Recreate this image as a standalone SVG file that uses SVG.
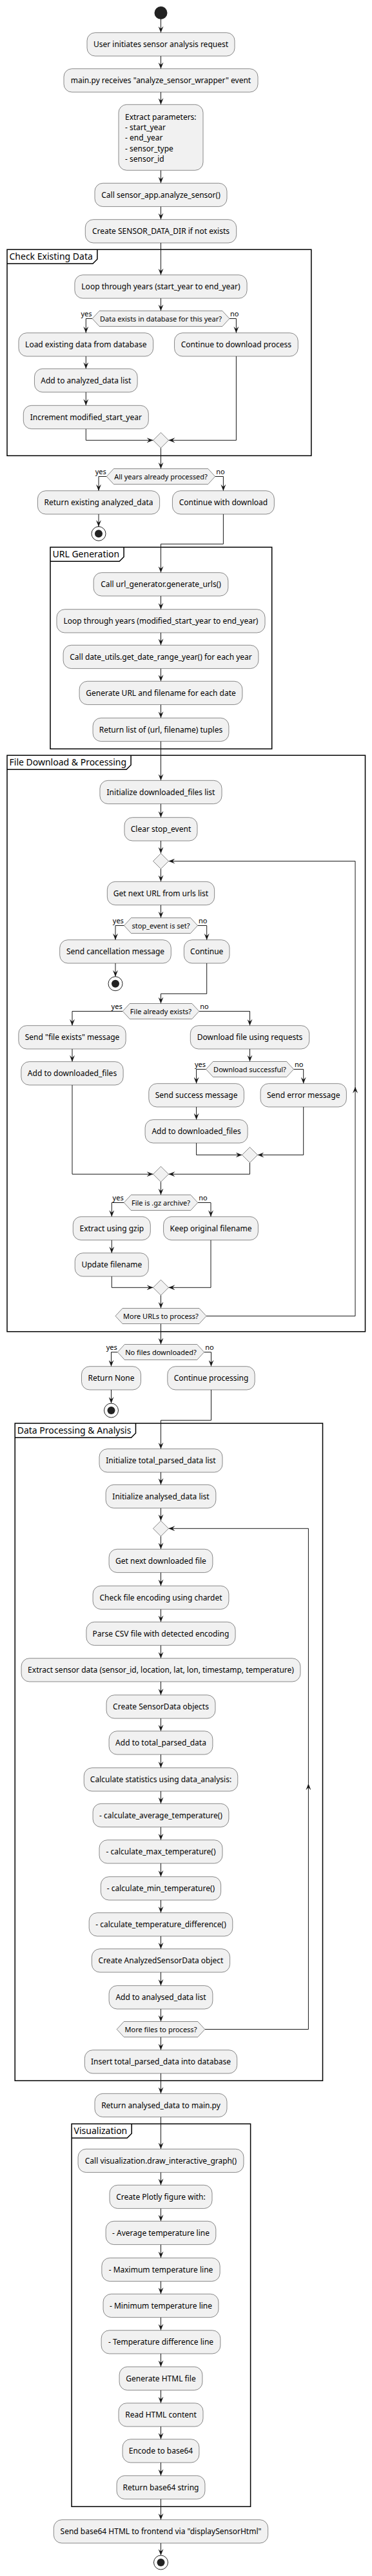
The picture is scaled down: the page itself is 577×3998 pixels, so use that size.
<svg xmlns="http://www.w3.org/2000/svg" width="577" height="3998" viewBox="0 0 577 3998">
<style>
.b{fill:#F1F1F1;stroke:#181818;stroke-width:0.5}
.t{font-family:"Noto Sans","Open Sans",sans-serif;font-size:12px;fill:#000;text-anchor:middle}
.tl{font-family:"Noto Sans","Open Sans",sans-serif;font-size:12px;fill:#000}
.ht{font-family:"Noto Sans","Open Sans",sans-serif;font-size:11px;fill:#000;text-anchor:middle}
.ly{font-family:"Noto Sans","Open Sans",sans-serif;font-size:11px;fill:#000;text-anchor:end}
.ln{font-family:"Noto Sans","Open Sans",sans-serif;font-size:11px;fill:#000}
.ft{font-family:"Noto Sans","Open Sans",sans-serif;font-size:14px;fill:#000}
.fr{fill:none;stroke:#000;stroke-width:1.5}
.c{fill:none;stroke:#181818;stroke-width:1;marker-end:url(#ah)}
.st{fill:#222}
.en{fill:none;stroke:#222;stroke-width:1}
</style>
<defs>
<marker id="ah" viewBox="0 0 10 8" refX="10" refY="4" markerWidth="10" markerHeight="8" orient="auto" markerUnits="userSpaceOnUse"><path d="M0,0 L10,4 L0,8 L4,4 Z" fill="#181818"/></marker>
</defs>
<rect width="577" height="3998" fill="#fff"/>

<g id="frames">
<g id="f1"><rect class="fr" x="11" y="387.3" width="471.8" height="320"/><path class="fr" d="M11,409.3 H143.9 L150.9,402.3 V387.3"/><text class="ft" x="14.5" y="403.3">Check Existing Data</text></g>
<g id="f2"><rect class="fr" x="78" y="849.3" width="343.7" height="313"/><path class="fr" d="M78,871.3 H185.1 L192.1,864.3 V849.3"/><text class="ft" x="81.5" y="865.3">URL Generation</text></g>
<g id="f3"><rect class="fr" x="11" y="1172.3" width="555.5" height="894.4"/><path class="fr" d="M11,1194.3 H196.1 L203.1,1187.3 V1172.3"/><text class="ft" x="14.5" y="1188.3">File Download &amp; Processing</text></g>
<g id="f4"><rect class="fr" x="23.2" y="2209" width="477.3" height="1020.3"/><path class="fr" d="M23.2,2231.3 H203.5 L210.5,2224.3 V2209"/><text class="ft" x="26.7" y="2225">Data Processing &amp; Analysis</text></g>
<g id="f5"><rect class="fr" x="111.1" y="3296.3" width="277.5" height="594"/><path class="fr" d="M111.1,3318.3 H197.2 L204.2,3311.3 V3296.3"/><text class="ft" x="114.6" y="3312.3">Visualization</text></g>
</g>

<g id="connectors">
<path class="c" d="M249.5,30 V50.7"/>
<path class="c" d="M249.5,87 V106.7"/>
<path class="c" d="M249.5,143 V162.3"/>
<path class="c" d="M249.5,264.3 V284.3"/>
<path class="c" d="M249.5,320.6 V340.7"/>
<path class="c" d="M249.5,377 V426.7"/>
<path class="c" d="M249.5,463 V482.5"/>
<path class="c" d="M143.1,494.5 H133.3 V516.7"/>
<path class="c" d="M355.9,494.5 H366.4 V516.7"/>
<path class="c" d="M133.3,553 V572.3"/>
<path class="c" d="M133.3,608.6 V629.3"/>
<path class="c" d="M133.3,665.6 V683.3 H237.5"/>
<path class="c" d="M366.4,553 V683.3 H261.5"/>
<path class="c" d="M249.5,695.3 V727.5"/>
<path class="c" d="M165.3,739.5 H153 V761.7"/>
<path class="c" d="M333.7,739.5 H346.4 V761.7"/>
<path class="c" d="M153,798 V817.3"/>
<path class="c" d="M346.4,798 V844.3 H249.5 V888.7"/>
<path class="c" d="M249.5,925 V945.7"/>
<path class="c" d="M249.5,982 V1001.3"/>
<path class="c" d="M249.5,1037.6 V1057.3"/>
<path class="c" d="M249.5,1093.6 V1114.3"/>
<path class="c" d="M249.5,1150.6 V1211.3"/>
<path class="c" d="M249.5,1247.6 V1268.7"/>
<path class="c" d="M249.5,1305 V1324.5"/>
<path class="c" d="M249.5,1348.5 V1368.3"/>
<path class="c" d="M249.5,1404.6 V1424.5"/>
<path class="c" d="M192.45,1436.5 H179 V1458.7"/>
<path class="c" d="M306.55,1436.5 H320.7 V1458.7"/>
<path class="c" d="M179,1495 V1515.7"/>
<path class="c" d="M320.7,1495 V1542.3 H249.5 V1557.5"/>
<path class="c" d="M190.25,1569.5 H112 V1591.7"/>
<path class="c" d="M308.75,1569.5 H387.5 V1591.7"/>
<path class="c" d="M112,1628 V1647.7"/>
<path class="c" d="M387.5,1628 V1647.5"/>
<path class="c" d="M319.5,1659.5 H304.6 V1681.7"/>
<path class="c" d="M455.5,1659.5 H470.7 V1681.7"/>
<path class="c" d="M304.6,1718 V1737.7"/>
<path class="c" d="M304.6,1774 V1792.5 H375.5"/>
<path class="c" d="M470.7,1718 V1792.5 H399.5"/>
<path class="c" d="M387.5,1804.5 V1822.3 H261.5"/>
<path class="c" d="M112,1684 V1822.3 H237.5"/>
<path class="c" d="M249.5,1834.3 V1854.5"/>
<path class="c" d="M192.25,1866.5 H173.3 V1888.3"/>
<path class="c" d="M306.75,1866.5 H327 V1888.3"/>
<path class="c" d="M173.3,1924.6 V1944.7"/>
<path class="c" d="M173.3,1981 V1998.3 H237.5"/>
<path class="c" d="M327,1924.6 V1998.3 H261.5"/>
<path class="c" d="M249.5,2010.3 V2030.5"/>
<path class="c" d="M320,2042.5 H551 V1686.7"/>
<path class="c" d="M551,1686.7 V1336.5 H261.5"/>
<path class="c" d="M249.5,2054.5 V2086.5"/>
<path class="c" d="M182.35,2098.5 H172.5 V2120.7"/>
<path class="c" d="M316.65,2098.5 H327.5 V2120.7"/>
<path class="c" d="M172.5,2157 V2178"/>
<path class="c" d="M327.5,2157 V2204.3 H249.5 V2248.7"/>
<path class="c" d="M249.5,2285 V2304.3"/>
<path class="c" d="M249.5,2340.6 V2360.3"/>
<path class="c" d="M249.5,2384.3 V2404.3"/>
<path class="c" d="M249.5,2440.6 V2461.3"/>
<path class="c" d="M249.5,2497.6 V2517.3"/>
<path class="c" d="M249.5,2553.6 V2573.7"/>
<path class="c" d="M249.5,2610 V2630.7"/>
<path class="c" d="M249.5,2667 V2686.7"/>
<path class="c" d="M249.5,2723 V2743.7"/>
<path class="c" d="M249.5,2780 V2799.3"/>
<path class="c" d="M249.5,2835.6 V2855.7"/>
<path class="c" d="M249.5,2892 V2912.7"/>
<path class="c" d="M249.5,2949 V2968.7"/>
<path class="c" d="M249.5,3005 V3024.7"/>
<path class="c" d="M249.5,3061 V3081.7"/>
<path class="c" d="M249.5,3118 V3137.5"/>
<path class="c" d="M317.8,3149.5 H478.4 V2768.3"/>
<path class="c" d="M478.4,2768.3 V2372.3 H261.5"/>
<path class="c" d="M249.5,3161.5 V3181.7"/>
<path class="c" d="M249.5,3218 V3249.3"/>
<path class="c" d="M249.5,3285.6 V3335.3"/>
<path class="c" d="M249.5,3371.6 V3391.3"/>
<path class="c" d="M249.5,3427.6 V3447.3"/>
<path class="c" d="M249.5,3483.6 V3504.3"/>
<path class="c" d="M249.5,3540.6 V3560.3"/>
<path class="c" d="M249.5,3596.6 V3616.7"/>
<path class="c" d="M249.5,3653 V3673.3"/>
<path class="c" d="M249.5,3709.6 V3729.7"/>
<path class="c" d="M249.5,3766 V3785.7"/>
<path class="c" d="M249.5,3822 V3842.3"/>
<path class="c" d="M249.5,3878.6 V3910.7"/>
<path class="c" d="M249.5,3947 V3966"/>
<text class="ly" x="142.5" y="491">yes</text><text class="ln" x="357" y="491">no</text>
<text class="ly" x="164.8" y="736">yes</text><text class="ln" x="335.2" y="736">no</text>
<text class="ly" x="191.9" y="1433">yes</text><text class="ln" x="308" y="1433">no</text>
<text class="ly" x="189.7" y="1566">yes</text><text class="ln" x="310.3" y="1566">no</text>
<text class="ly" x="319" y="1656">yes</text><text class="ln" x="457" y="1656">no</text>
<text class="ly" x="191.7" y="1863">yes</text><text class="ln" x="308.3" y="1863">no</text>
<text class="ly" x="181.8" y="2095">yes</text><text class="ln" x="318.2" y="2095">no</text>
</g>

<g id="start"><circle class="st" cx="249.5" cy="20" r="10"/></g>
<g id="n1"><rect class="b" x="135" y="50.7" width="229" height="36.3" rx="12.5"/><text class="t" x="249.5" y="73.2">User initiates sensor analysis request</text></g>
<g id="n2"><rect class="b" x="99" y="106.7" width="301" height="36.3" rx="12.5"/><text class="t" x="249.5" y="129.2">main.py receives "analyze_sensor_wrapper" event</text></g>
<g id="n3"><rect class="b" x="184" y="162.3" width="131" height="102" rx="12.5"/><text class="tl" x="194" y="185.8">Extract parameters:</text><text class="tl" x="194" y="202.1">- start_year</text><text class="tl" x="194" y="218.4">- end_year</text><text class="tl" x="194" y="234.7">- sensor_type</text><text class="tl" x="194" y="251">- sensor_id</text></g>
<g id="n4"><rect class="b" x="147" y="284.3" width="205" height="36.3" rx="12.5"/><text class="t" x="249.5" y="306.8">Call sensor_app.analyze_sensor()</text></g>
<g id="n5"><rect class="b" x="132.3" y="340.7" width="234.4" height="36.3" rx="12.5"/><text class="t" x="249.5" y="363.2">Create SENSOR_DATA_DIR if not exists</text></g>
<g id="n6"><rect class="b" x="115.9" y="426.7" width="267.2" height="36.3" rx="12.5"/><text class="t" x="249.5" y="449.2">Loop through years (start_year to end_year)</text></g>
<g id="h1"><polygon class="b" points="143.1,494.5 154.1,482.5 344.9,482.5 355.9,494.5 344.9,506.5 154.1,506.5"/><text class="ht" x="249.5" y="498.5">Data exists in database for this year?</text></g>
<g id="n7"><rect class="b" x="28.95" y="516.7" width="208.7" height="36.3" rx="12.5"/><text class="t" x="133.3" y="539.2">Load existing data from database</text></g>
<g id="n8"><rect class="b" x="270.55" y="516.7" width="191.7" height="36.3" rx="12.5"/><text class="t" x="366.4" y="539.2">Continue to download process</text></g>
<g id="n9"><rect class="b" x="53.45" y="572.3" width="159.7" height="36.3" rx="12.5"/><text class="t" x="133.3" y="594.8">Add to analyzed_data list</text></g>
<g id="n10"><rect class="b" x="36.3" y="629.3" width="194" height="36.3" rx="12.5"/><text class="t" x="133.3" y="651.8">Increment modified_start_year</text></g>
<g id="m1"><polygon class="b" points="249.5,671.3 261.5,683.3 249.5,695.3 237.5,683.3"/></g>
<g id="h2"><polygon class="b" points="165.3,739.5 176.3,727.5 322.7,727.5 333.7,739.5 322.7,751.5 176.3,751.5"/><text class="ht" x="249.5" y="743.5">All years already processed?</text></g>
<g id="n11"><rect class="b" x="58.4" y="761.7" width="189.2" height="36.3" rx="12.5"/><text class="t" x="153" y="784.2">Return existing analyzed_data</text></g>
<g id="e1"><circle class="en" cx="153" cy="828.3" r="11"/><circle class="st" cx="153" cy="828.3" r="6"/></g>
<g id="n12"><rect class="b" x="267.45" y="761.7" width="157.9" height="36.3" rx="12.5"/><text class="t" x="346.4" y="784.2">Continue with download</text></g>
<g id="n13"><rect class="b" x="145.15" y="888.7" width="208.7" height="36.3" rx="12.5"/><text class="t" x="249.5" y="911.2">Call url_generator.generate_urls()</text></g>
<g id="n14"><rect class="b" x="87.95" y="945.7" width="323.1" height="36.3" rx="12.5"/><text class="t" x="249.5" y="968.2">Loop through years (modified_start_year to end_year)</text></g>
<g id="n15"><rect class="b" x="98.1" y="1001.3" width="302.8" height="36.3" rx="12.5"/><text class="t" x="249.5" y="1023.8">Call date_utils.get_date_range_year() for each year</text></g>
<g id="n16"><rect class="b" x="123.1" y="1057.3" width="252.8" height="36.3" rx="12.5"/><text class="t" x="249.5" y="1079.8">Generate URL and filename for each date</text></g>
<g id="n17"><rect class="b" x="144.1" y="1114.3" width="210.8" height="36.3" rx="12.5"/><text class="t" x="249.5" y="1136.8">Return list of (url, filename) tuples</text></g>
<g id="n18"><rect class="b" x="154.95" y="1211.3" width="189.1" height="36.3" rx="12.5"/><text class="t" x="249.5" y="1233.8">Initialize downloaded_files list</text></g>
<g id="n19"><rect class="b" x="193" y="1268.7" width="113" height="36.3" rx="12.5"/><text class="t" x="249.5" y="1291.2">Clear stop_event</text></g>
<g id="d1"><polygon class="b" points="249.5,1324.5 261.5,1336.5 249.5,1348.5 237.5,1336.5"/></g>
<g id="n20"><rect class="b" x="166.35" y="1368.3" width="166.3" height="36.3" rx="12.5"/><text class="t" x="249.5" y="1390.8">Get next URL from urls list</text></g>
<g id="h3"><polygon class="b" points="192.45,1436.5 203.45,1424.5 295.55,1424.5 306.55,1436.5 295.55,1448.5 203.45,1448.5"/><text class="ht" x="249.5" y="1440.5">stop_event is set?</text></g>
<g id="n21"><rect class="b" x="92.7" y="1458.7" width="172.6" height="36.3" rx="12.5"/><text class="t" x="179" y="1481.2">Send cancellation message</text></g>
<g id="e2"><circle class="en" cx="179" cy="1526.7" r="11"/><circle class="st" cx="179" cy="1526.7" r="6"/></g>
<g id="n22"><rect class="b" x="285.4" y="1458.7" width="70.6" height="36.3" rx="12.5"/><text class="t" x="320.7" y="1481.2">Continue</text></g>
<g id="h4"><polygon class="b" points="190.25,1569.5 201.25,1557.5 297.75,1557.5 308.75,1569.5 297.75,1581.5 201.25,1581.5"/><text class="ht" x="249.5" y="1573.5">File already exists?</text></g>
<g id="n23"><rect class="b" x="28.85" y="1591.7" width="166.3" height="36.3" rx="12.5"/><text class="t" x="112" y="1614.2">Send "file exists" message</text></g>
<g id="n24"><rect class="b" x="295.3" y="1591.7" width="184.4" height="36.3" rx="12.5"/><text class="t" x="387.5" y="1614.2">Download file using requests</text></g>
<g id="n25"><rect class="b" x="32.85" y="1647.7" width="158.3" height="36.3" rx="12.5"/><text class="t" x="112" y="1670.2">Add to downloaded_files</text></g>
<g id="h5"><polygon class="b" points="319.5,1659.5 330.5,1647.5 444.5,1647.5 455.5,1659.5 444.5,1671.5 330.5,1671.5"/><text class="ht" x="387.5" y="1663.5">Download successful?</text></g>
<g id="n26"><rect class="b" x="230.8" y="1681.7" width="147.6" height="36.3" rx="12.5"/><text class="t" x="304.6" y="1704.2">Send success message</text></g>
<g id="n27"><rect class="b" x="404.05" y="1681.7" width="133.3" height="36.3" rx="12.5"/><text class="t" x="470.7" y="1704.2">Send error message</text></g>
<g id="n28"><rect class="b" x="225.1" y="1737.7" width="159" height="36.3" rx="12.5"/><text class="t" x="304.6" y="1760.2">Add to downloaded_files</text></g>
<g id="m2"><polygon class="b" points="387.5,1780.5 399.5,1792.5 387.5,1804.5 375.5,1792.5"/></g>
<g id="m3"><polygon class="b" points="249.5,1810.3 261.5,1822.3 249.5,1834.3 237.5,1822.3"/></g>
<g id="h6"><polygon class="b" points="192.25,1866.5 203.25,1854.5 295.75,1854.5 306.75,1866.5 295.75,1878.5 203.25,1878.5"/><text class="ht" x="249.5" y="1870.5">File is .gz archive?</text></g>
<g id="n29"><rect class="b" x="113.3" y="1888.3" width="120" height="36.3" rx="12.5"/><text class="t" x="173.3" y="1910.8">Extract using gzip</text></g>
<g id="n30"><rect class="b" x="253.6" y="1888.3" width="146.8" height="36.3" rx="12.5"/><text class="t" x="327" y="1910.8">Keep original filename</text></g>
<g id="n31"><rect class="b" x="116.25" y="1944.7" width="114.1" height="36.3" rx="12.5"/><text class="t" x="173.3" y="1967.2">Update filename</text></g>
<g id="m4"><polygon class="b" points="249.5,1986.3 261.5,1998.3 249.5,2010.3 237.5,1998.3"/></g>
<g id="h7"><polygon class="b" points="179,2042.5 190,2030.5 309,2030.5 320,2042.5 309,2054.5 190,2054.5"/><text class="ht" x="249.5" y="2046.5">More URLs to process?</text></g>
<g id="h8"><polygon class="b" points="182.35,2098.5 193.35,2086.5 305.65,2086.5 316.65,2098.5 305.65,2110.5 193.35,2110.5"/><text class="ht" x="249.5" y="2102.5">No files downloaded?</text></g>
<g id="n32"><rect class="b" x="126.5" y="2120.7" width="92" height="36.3" rx="12.5"/><text class="t" x="172.5" y="2143.2">Return None</text></g>
<g id="e3"><circle class="en" cx="172.5" cy="2189" r="11"/><circle class="st" cx="172.5" cy="2189" r="6"/></g>
<g id="n33"><rect class="b" x="259.8" y="2120.7" width="135.4" height="36.3" rx="12.5"/><text class="t" x="327.5" y="2143.2">Continue processing</text></g>
<g id="n34"><rect class="b" x="154" y="2248.7" width="191" height="36.3" rx="12.5"/><text class="t" x="249.5" y="2271.2">Initialize total_parsed_data list</text></g>
<g id="n35"><rect class="b" x="164.15" y="2304.3" width="170.7" height="36.3" rx="12.5"/><text class="t" x="249.5" y="2326.8">Initialize analysed_data list</text></g>
<g id="d2"><polygon class="b" points="249.5,2360.3 261.5,2372.3 249.5,2384.3 237.5,2372.3"/></g>
<g id="n36"><rect class="b" x="169.1" y="2404.3" width="160.8" height="36.3" rx="12.5"/><text class="t" x="249.5" y="2426.8">Get next downloaded file</text></g>
<g id="n37"><rect class="b" x="144.1" y="2461.3" width="210.8" height="36.3" rx="12.5"/><text class="t" x="249.5" y="2483.8">Check file encoding using chardet</text></g>
<g id="n38"><rect class="b" x="133.95" y="2517.3" width="231.1" height="36.3" rx="12.5"/><text class="t" x="249.5" y="2539.8">Parse CSV file with detected encoding</text></g>
<g id="n39"><rect class="b" x="33.1" y="2573.7" width="432.8" height="36.3" rx="12.5"/><text class="t" x="249.5" y="2596.2">Extract sensor data (sensor_id, location, lat, lon, timestamp, temperature)</text></g>
<g id="n40"><rect class="b" x="165.05" y="2630.7" width="168.9" height="36.3" rx="12.5"/><text class="t" x="249.5" y="2653.2">Create SensorData objects</text></g>
<g id="n41"><rect class="b" x="169.1" y="2686.7" width="160.8" height="36.3" rx="12.5"/><text class="t" x="249.5" y="2709.2">Add to total_parsed_data</text></g>
<g id="n42"><rect class="b" x="130.25" y="2743.7" width="238.5" height="36.3" rx="12.5"/><text class="t" x="249.5" y="2766.2">Calculate statistics using data_analysis:</text></g>
<g id="n43"><rect class="b" x="144.1" y="2799.3" width="210.8" height="36.3" rx="12.5"/><text class="t" x="249.5" y="2821.8">- calculate_average_temperature()</text></g>
<g id="n44"><rect class="b" x="154" y="2855.7" width="191" height="36.3" rx="12.5"/><text class="t" x="249.5" y="2878.2">- calculate_max_temperature()</text></g>
<g id="n45"><rect class="b" x="156.4" y="2912.7" width="186.2" height="36.3" rx="12.5"/><text class="t" x="249.5" y="2935.2">- calculate_min_temperature()</text></g>
<g id="n46"><rect class="b" x="138.2" y="2968.7" width="222.6" height="36.3" rx="12.5"/><text class="t" x="249.5" y="2991.2">- calculate_temperature_difference()</text></g>
<g id="n47"><rect class="b" x="142.4" y="3024.7" width="214.2" height="36.3" rx="12.5"/><text class="t" x="249.5" y="3047.2">Create AnalyzedSensorData object</text></g>
<g id="n48"><rect class="b" x="169.1" y="3081.7" width="160.8" height="36.3" rx="12.5"/><text class="t" x="249.5" y="3104.2">Add to analysed_data list</text></g>
<g id="h9"><polygon class="b" points="181.2,3149.5 192.2,3137.5 306.8,3137.5 317.8,3149.5 306.8,3161.5 192.2,3161.5"/><text class="ht" x="249.5" y="3153.5">More files to process?</text></g>
<g id="n49"><rect class="b" x="131.35" y="3181.7" width="236.3" height="36.3" rx="12.5"/><text class="t" x="249.5" y="3204.2">Insert total_parsed_data into database</text></g>
<g id="n50"><rect class="b" x="147" y="3249.3" width="205" height="36.3" rx="12.5"/><text class="t" x="249.5" y="3271.8">Return analysed_data to main.py</text></g>
<g id="n51"><rect class="b" x="121.05" y="3335.3" width="256.9" height="36.3" rx="12.5"/><text class="t" x="249.5" y="3357.8">Call visualization.draw_interactive_graph()</text></g>
<g id="n52"><rect class="b" x="170" y="3391.3" width="159" height="36.3" rx="12.5"/><text class="t" x="249.5" y="3413.8">Create Plotly figure with:</text></g>
<g id="n53"><rect class="b" x="164.15" y="3447.3" width="170.7" height="36.3" rx="12.5"/><text class="t" x="249.5" y="3469.8">- Average temperature line</text></g>
<g id="n54"><rect class="b" x="157.85" y="3504.3" width="183.3" height="36.3" rx="12.5"/><text class="t" x="249.5" y="3526.8">- Maximum temperature line</text></g>
<g id="n55"><rect class="b" x="160.05" y="3560.3" width="178.9" height="36.3" rx="12.5"/><text class="t" x="249.5" y="3582.8">- Minimum temperature line</text></g>
<g id="n56"><rect class="b" x="157.15" y="3616.7" width="184.7" height="36.3" rx="12.5"/><text class="t" x="249.5" y="3639.2">- Temperature difference line</text></g>
<g id="n57"><rect class="b" x="185.1" y="3673.3" width="128.8" height="36.3" rx="12.5"/><text class="t" x="249.5" y="3695.8">Generate HTML file</text></g>
<g id="n58"><rect class="b" x="184" y="3729.7" width="131" height="36.3" rx="12.5"/><text class="t" x="249.5" y="3752.2">Read HTML content</text></g>
<g id="n59"><rect class="b" x="190.1" y="3785.7" width="118.8" height="36.3" rx="12.5"/><text class="t" x="249.5" y="3808.2">Encode to base64</text></g>
<g id="n60"><rect class="b" x="181.05" y="3842.3" width="136.9" height="36.3" rx="12.5"/><text class="t" x="249.5" y="3864.8">Return base64 string</text></g>
<g id="n61"><rect class="b" x="83.35" y="3910.7" width="332.3" height="36.3" rx="12.5"/><text class="t" x="249.5" y="3933.2">Send base64 HTML to frontend via "displaySensorHtml"</text></g>
<g id="end"><circle class="en" cx="249.5" cy="3977" r="11"/><circle class="st" cx="249.5" cy="3977" r="6"/></g>
</svg>
